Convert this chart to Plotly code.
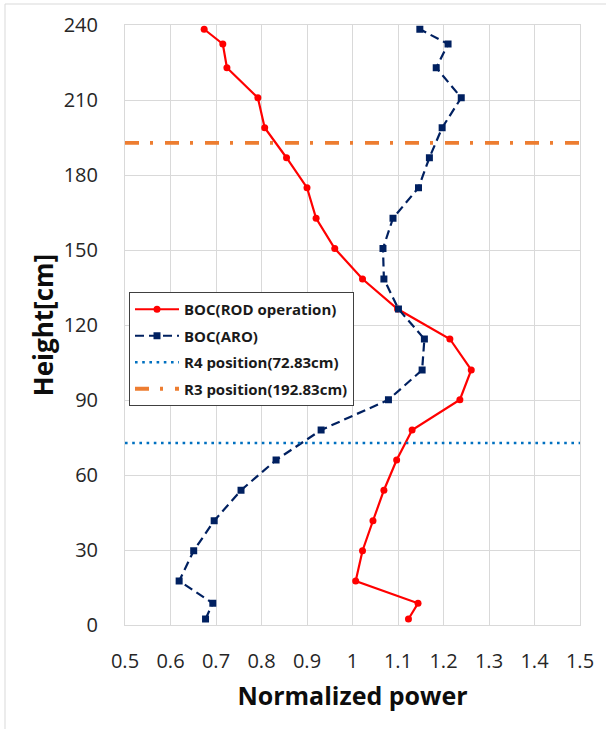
import plotly.graph_objects as go

# ---- data ----
heights = [2.4, 8.7, 17.6, 29.7, 41.7, 53.9, 66.0, 78.0, 90.1, 102.0, 114.4,
           126.4, 138.4, 150.6, 162.7, 174.9, 186.9, 198.9, 210.9, 222.9, 232.4, 238.3]
rod_power = [1.123, 1.144, 1.007, 1.022, 1.045, 1.069, 1.097, 1.131, 1.236, 1.261, 1.214,
             1.099, 1.022, 0.961, 0.920, 0.900, 0.855, 0.807, 0.792, 0.724, 0.715, 0.674]
aro_power = [0.677, 0.693, 0.619, 0.651, 0.696, 0.755, 0.832, 0.931, 1.079, 1.153, 1.158,
             1.101, 1.069, 1.067, 1.089, 1.145, 1.169, 1.197, 1.239, 1.184, 1.210, 1.148]
r4_height = 72.83
r3_height = 192.83
line_span = [0.5, 1.5]

x_ticks = [0.5, 0.6, 0.7, 0.8, 0.9, 1.0, 1.1, 1.2, 1.3, 1.4, 1.5]
x_labels = ["0.5", "0.6", "0.7", "0.8", "0.9", "1", "1.1", "1.2", "1.3", "1.4", "1.5"]
y_ticks = [0, 30, 60, 90, 120, 150, 180, 210, 240]
y_labels = ["0", "30", "60", "90", "120", "150", "180", "210", "240"]

names = ["BOC(ROD operation)", "BOC(ARO)", "R4 position(72.83cm)", "R3 position(192.83cm)"]

fig = go.Figure()
fig.add_trace(go.Scatter(
    x=rod_power, y=heights, name=names[0], mode="lines+markers", legendgroup="a",
    line=dict(color="#FF0000", width=2.2),
    marker=dict(symbol="circle", size=7, color="#FF0000")))
fig.add_trace(go.Scatter(
    x=aro_power, y=heights, name=names[1], mode="lines+markers", legendgroup="b",
    line=dict(color="#002060", width=2.2, dash="9px,5px"),
    marker=dict(symbol="square", size=7, color="#002060")))
fig.add_trace(go.Scatter(
    x=line_span, y=[r4_height, r4_height], name=names[2], mode="lines", legendgroup="c",
    line=dict(color="#0070C0", width=2.6, dash="2.6px,4.6px")))
fig.add_trace(go.Scatter(
    x=line_span, y=[r3_height, r3_height], name=names[3], mode="lines", legendgroup="d",
    line=dict(color="#ED7D31", width=3.8, dash="14px,11px,3px,12px")))

W, H = 606, 729
ml, mr, mt, mb = 125, 26, 25, 104
pw, ph = W - ml - mr, H - mt - mb

def px2paper_x(px):
    return (px - ml) / pw

def px2paper_y(py):
    return (H - mb - py) / ph

fig.update_layout(
    width=W, height=H,
    margin=dict(l=ml, r=mr, t=mt, b=mb, pad=0),
    paper_bgcolor="white", plot_bgcolor="white",
    font=dict(family="Open Sans", color="#262626"),
    showlegend=True,
    legend=dict(
        x=px2paper_x(129), y=px2paper_y(292), xanchor="left", yanchor="top",
        bgcolor="white", bordercolor="#404040", borderwidth=1,
        font=dict(family="Open Sans", size=15, color="#1a1a1a", weight="bold"),
        tracegroupgap=4, itemwidth=44,
    ),
    xaxis=dict(
        range=[0.5, 1.5], tickvals=x_ticks, ticktext=x_labels,
        showgrid=True, gridcolor="#D9D9D9", gridwidth=1,
        showline=True, linecolor="#D9D9D9", linewidth=1, mirror=True,
        zeroline=False, ticks="", ticklabelstandoff=18,
        tickfont=dict(family="Open Sans", size=20, color="#262626"),
        title=dict(text="Normalized power", standoff=14,
                   font=dict(family="Open Sans", size=25, color="#0d0d0d", weight="bold")),
    ),
    yaxis=dict(
        range=[0, 240], tickvals=y_ticks, ticktext=y_labels,
        showgrid=True, gridcolor="#D9D9D9", gridwidth=1,
        showline=True, linecolor="#D9D9D9", linewidth=1, mirror=True,
        zeroline=False, ticks="", ticklabelstandoff=22,
        tickfont=dict(family="Open Sans", size=20, color="#262626"),
        title=dict(text="Height[cm]", standoff=2,
                   font=dict(family="Open Sans", size=26, color="#0d0d0d", weight="bold")),
    ),
    shapes=[
        dict(type="line", xref="paper", yref="paper",
             x0=px2paper_x(5), x1=px2paper_x(612), y0=px2paper_y(4), y1=px2paper_y(4),
             line=dict(color="#D9D9D9", width=1)),
        dict(type="line", xref="paper", yref="paper",
             x0=px2paper_x(5), x1=px2paper_x(5), y0=px2paper_y(4), y1=px2paper_y(735),
             line=dict(color="#D9D9D9", width=1)),
    ],
)

fig.write_html("out.html")
